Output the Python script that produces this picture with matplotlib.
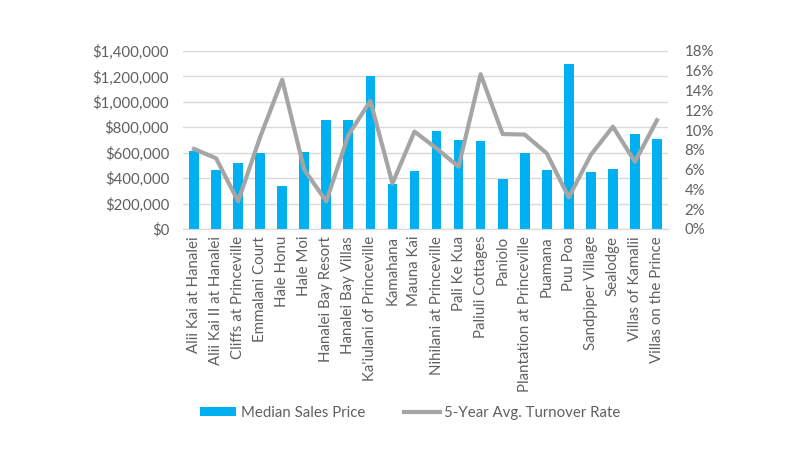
import matplotlib
matplotlib.use("Agg")
import matplotlib.pyplot as plt
from matplotlib.ticker import FuncFormatter, MultipleLocator
from matplotlib.lines import Line2D
from matplotlib.patches import Patch

plt.rcParams['font.family'] = ['Lato', 'DejaVu Sans']

categories = ["Alii Kai at Hanalei", "Alii Kai II at Hanalei", "Cliffs at Princeville",
              "Emmalani Court", "Hale Honu", "Hale Moi", "Hanalei Bay Resort",
              "Hanalei Bay Villas", "Ka'iulani of Princeville", "Kamahana", "Mauna Kai",
              "Nihilani at Princeville", "Pali Ke Kua", "Paliuli Cottages", "Paniolo",
              "Plantation at Princeville", "Puamana", "Puu Poa", "Sandpiper Village",
              "Sealodge", "Villas of Kamalii", "Villas on the Prince"]
median_price = [610000, 465000, 520000, 595000, 335000, 605000, 855000, 855000,
                1200000, 355000, 460000, 770000, 700000, 695000, 395000, 600000,
                465000, 1300000, 445000, 470000, 745000, 710000]
turnover = [8.1, 7.15, 2.8, 9.3, 15.1, 6.0, 2.8, 9.5, 12.95, 4.6, 9.85,
            8.15, 6.3, 15.65, 9.6, 9.55, 7.65, 3.2, 7.5, 10.35, 6.8, 11.0]

blue = "#00B0F0"
gray = "#A5A5A5"
txt = "#606060"
fs = 10.8

fig = plt.figure(figsize=(8, 4.71), dpi=100)
ax = fig.add_axes([183/800, 1-229/471, 485/800, 178/471])
x = list(range(len(categories)))
ax.bar(x, median_price, width=0.44, color=blue, zorder=2)
ax.set_ylim(0, 1400000)
ax.set_xlim(-0.5, len(categories)-0.5)
ax.yaxis.set_major_locator(MultipleLocator(200000))
ax.yaxis.set_major_formatter(FuncFormatter(lambda v, p: f"${v:,.0f}"))
ax.grid(axis='y', color="#D9D9D9", linewidth=1, zorder=0)
ax.set_axisbelow(True)
for s in ax.spines.values():
    s.set_visible(False)
ax.spines['bottom'].set_visible(True)
ax.spines['bottom'].set_color("#D9D9D9")
ax.tick_params(axis='both', length=0, colors=txt, labelsize=fs)
ax.tick_params(axis='y', pad=10)
ax.tick_params(axis='x', pad=5)
ax.set_xticks(x)
ax.set_xticklabels(categories, rotation=90)

ax2 = ax.twinx()
ax2.plot(x, turnover, color=gray, linewidth=3, zorder=3)
ax2.set_ylim(0, 18)
ax2.yaxis.set_major_locator(MultipleLocator(2))
ax2.yaxis.set_major_formatter(FuncFormatter(lambda v, p: f"{v:.0f}%"))
for s in ax2.spines.values():
    s.set_visible(False)
ax2.tick_params(axis='both', length=0, colors=txt, labelsize=fs)
ax2.tick_params(axis='y', pad=12)

handles = [Patch(facecolor=blue, edgecolor='none'), Line2D([0], [0], color=gray, linewidth=3)]
fig.legend(handles, ["Median Sales Price", "5-Year Avg. Turnover Rate"],
           loc='center', bbox_to_anchor=(0.513, 1-413/471), ncol=2, frameon=False,
           fontsize=fs, labelcolor=txt, handlelength=2.4, handleheight=0.5,
           handletextpad=0.3, columnspacing=2.6)

fig.savefig("out.png", dpi=100)
